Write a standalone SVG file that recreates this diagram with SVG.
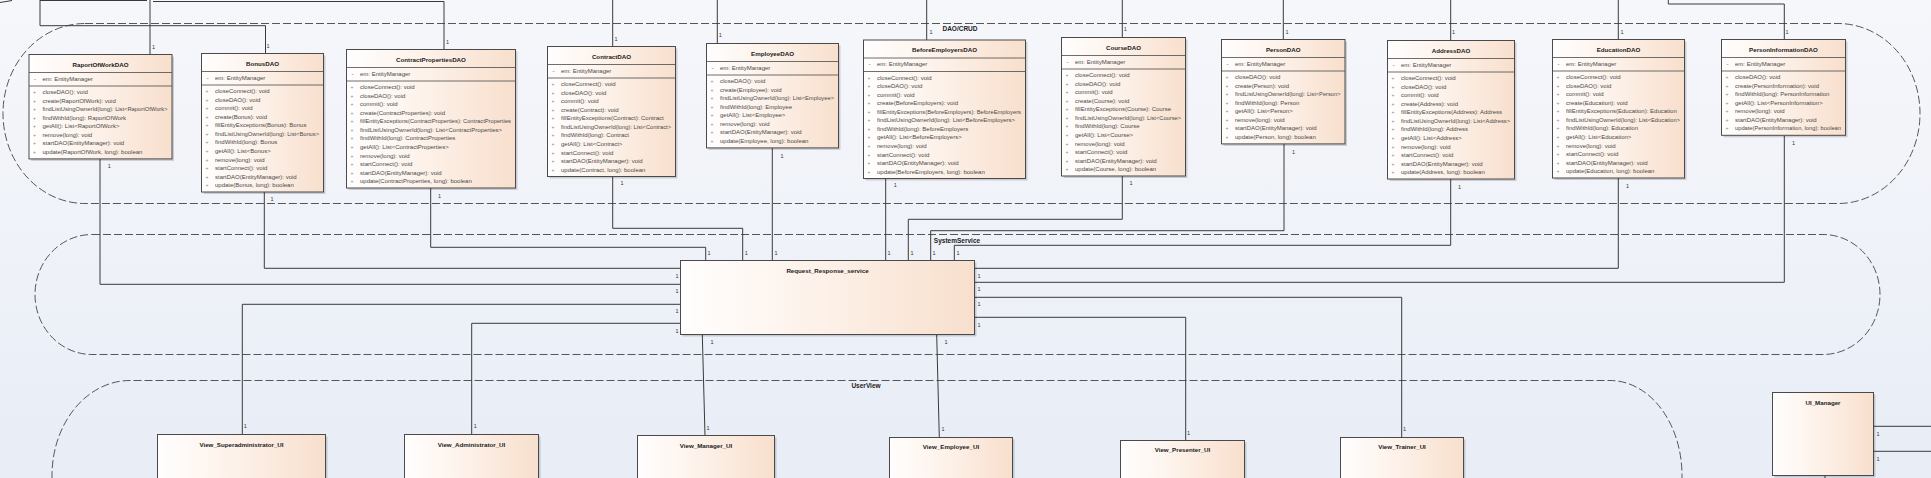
<svg xmlns="http://www.w3.org/2000/svg" width="1931" height="478" viewBox="0 0 1931 478">
<defs>
<linearGradient id="gBg" x1="0" y1="0" x2="0" y2="1"><stop offset="0" stop-color="#f6f7fb"/><stop offset="1" stop-color="#e8edf6"/></linearGradient>
<linearGradient id="gBox" x1="0" y1="0" x2="1" y2="0"><stop offset="0" stop-color="#fffefe"/><stop offset="0.45" stop-color="#fdf2ea"/><stop offset="1" stop-color="#f8dfcd"/></linearGradient>
<style>
.box{fill:url(#gBox);stroke:#4a4a4a;stroke-width:1}
.sh{fill:#000;opacity:.16}
.sep{stroke:#4a4a4a;stroke-width:.8}
.t{font-family:"Liberation Sans",Arial,sans-serif;font-size:6.2px;font-weight:bold;fill:#1a1a1a;text-anchor:middle}
.m{font-family:"Liberation Sans",Arial,sans-serif;font-size:6px;fill:#4a4a4a}
.p{font-family:"Liberation Sans",Arial,sans-serif;font-size:5px;fill:#8a8a8a}
.one{font-family:"Liberation Sans",Arial,sans-serif;font-size:5.5px;fill:#333}
.pkg{fill:none;stroke:#444;stroke-width:.9;stroke-dasharray:8 3}
.pl{font-family:"Liberation Sans",Arial,sans-serif;font-size:6.5px;font-weight:bold;fill:#222;text-anchor:middle}
.c{fill:none;stroke:#3a3a3a;stroke-width:1}
</style>
</defs>
<rect x="0" y="0" width="1931" height="478" fill="url(#gBg)"/>

<g id="packages">
<path class="pkg" d="M85,23.5 H1838 A82,90 0 0 1 1838,203.5 H85 A82,90 0 0 1 85,23.5 Z"/>
<text class="pl" x="960" y="31">DAO/CRUD</text>
<path class="pkg" d="M92,234.5 H1823 A57,60 0 0 1 1823,354.5 H92 A57,60 0 0 1 92,234.5 Z"/>
<text class="pl" x="957" y="242.5">SystemService</text>
<path class="pkg" d="M52,490 V475.5 A78,95 0 0 1 130,380.5 H1610 A72,95 0 0 1 1682,475.5 V490"/>
<text class="pl" x="866" y="388">UserView</text>
</g>

<g id="connectors">
<polyline class="c" points="0,2.5 12,0.5"/>
<polyline class="c" points="40,0.5 147,0.5"/>
<polyline class="c" points="40,0 40,25.7 150,25.7"/>
<polyline class="c" points="150,0 150,54.5"/>
<polyline class="c" points="150,25.7 265.5,25.7 265.5,53.5"/>
<polyline class="c" points="153,1.5 444,1.5 444,49.5"/>
<polyline class="c" points="612.7,0 612.7,46.5"/>
<polyline class="c" points="717.3,0 717.3,43.5"/>
<polyline class="c" points="926.7,0 926.7,40"/>
<polyline class="c" points="1122.3,0 1122.3,37.5"/>
<polyline class="c" points="1283.3,0 1283.3,39.5"/>
<polyline class="c" points="1450.7,0 1450.7,40.5"/>
<polyline class="c" points="1618.3,0 1618.3,39.5"/>
<polyline class="c" points="1668.3,0 1668.3,4 1784.3,4 1784.3,39.5"/>

<polyline class="c" points="100,159 100,284.3 680.5,284.3"/>
<polyline class="c" points="264.3,192 264.3,268.3 680.5,268.3"/>
<polyline class="c" points="430.7,188 430.7,247.3 705.7,247.3 705.7,260.5"/>
<polyline class="c" points="612.7,176.5 612.7,228.3 742.7,228.3 742.7,260.5"/>
<polyline class="c" points="772.3,148 772.3,260.5"/>
<polyline class="c" points="885.7,178.5 885.7,260.5"/>
<polyline class="c" points="1122.3,176 1122.3,219.3 908.3,219.3 908.3,260.5"/>
<polyline class="c" points="1284,144 1284,230.7 930.7,230.7 930.7,260.5"/>
<polyline class="c" points="1450.7,179 1450.7,245.3 954.3,245.3 954.3,260.5"/>
<polyline class="c" points="1618.3,178 1618.3,268.3 974.5,268.3"/>
<polyline class="c" points="1784.3,135.3 1784.3,282.3 974.5,282.3"/>
<polyline class="c" points="974.5,297.3 1401.7,297.3 1401.7,437.5"/>
<polyline class="c" points="974.5,317.3 1185.7,317.3 1185.7,440.5"/>
<polyline class="c" points="242.3,434.5 242.3,304.3 680.5,304.3"/>
<polyline class="c" points="471.7,434.5 471.7,323.3 680.5,323.3"/>
<polyline class="c" points="702.3,334.5 705,435.5"/>
<polyline class="c" points="936.7,334.5 939.3,437.5"/>
<polyline class="c" points="1873.5,426.3 1931,426.3"/>
<polyline class="c" points="1873.5,451.3 1931,451.3"/>
<polyline class="c" points="1825,475.5 1825,478"/>

<g id="multiplicities">
<text class="one" x="152" y="48.7">1</text>
<text class="one" x="266.4" y="47.7">1</text>
<text class="one" x="446" y="43.7">1</text>
<text class="one" x="614.4" y="41">1</text>
<text class="one" x="718.7" y="37">1</text>
<text class="one" x="929.4" y="34">1</text>
<text class="one" x="1123.7" y="31.3">1</text>
<text class="one" x="1285.4" y="33.7">1</text>
<text class="one" x="1452" y="34.3">1</text>
<text class="one" x="1620.4" y="33.7">1</text>
<text class="one" x="1785.4" y="33.7">1</text>

<text class="one" x="107.7" y="167.7">1</text>
<text class="one" x="270.4" y="201">1</text>
<text class="one" x="438" y="197.7">1</text>
<text class="one" x="620.4" y="185">1</text>
<text class="one" x="780.4" y="157.7">1</text>
<text class="one" x="893.7" y="187.3">1</text>
<text class="one" x="1129.4" y="185.3">1</text>
<text class="one" x="1292" y="153.7">1</text>
<text class="one" x="1458" y="188.7">1</text>
<text class="one" x="1626" y="187.7">1</text>
<text class="one" x="1792" y="145.3">1</text>

<text class="one" x="707.4" y="254.7">1</text>
<text class="one" x="744.7" y="254.7">1</text>
<text class="one" x="774.4" y="254.7">1</text>
<text class="one" x="887.4" y="254.7">1</text>
<text class="one" x="910.4" y="254.7">1</text>
<text class="one" x="932.4" y="254.7">1</text>
<text class="one" x="956.4" y="254.7">1</text>

<text class="one" x="675.4" y="277.7">1</text>
<text class="one" x="675.4" y="292.7">1</text>
<text class="one" x="675.4" y="312.7">1</text>
<text class="one" x="675.4" y="332.7">1</text>
<text class="one" x="977.4" y="277.7">1</text>
<text class="one" x="977.4" y="290.7">1</text>
<text class="one" x="977.4" y="305.7">1</text>
<text class="one" x="977.4" y="326.7">1</text>
<text class="one" x="710.4" y="343.7">1</text>
<text class="one" x="944.4" y="343.7">1</text>

<text class="one" x="243.7" y="427.7">1</text>
<text class="one" x="473.7" y="427.7">1</text>
<text class="one" x="706.4" y="429.7">1</text>
<text class="one" x="941.4" y="431.3">1</text>
<text class="one" x="1187" y="434.7">1</text>
<text class="one" x="1403" y="431.3">1</text>
<text class="one" x="1876.4" y="436">1</text>
<text class="one" x="1876.4" y="460.7">1</text>
</g>
</g>

<g id="RaportOfWorkDAO">
<rect class="sh" x="31" y="56.5" width="143" height="104.4"/>
<rect class="box" x="29" y="54.5" width="143" height="104.4"/>
<g transform="translate(29,54.5)">
<line class="sep" x1="0" y1="18" x2="143" y2="18"/><line class="sep" x1="0" y1="31.5" x2="143" y2="31.5"/>
<text class="t" x="71.5" y="12">RaportOfWorkDAO</text>
<text class="m" x="5" y="26">-</text><text class="m" x="13.5" y="26">em: EntityManager</text>
<text class="p" x="4" y="39.6">+</text><text class="m" x="13.5" y="39.6">closeDAO(): void</text>
<text class="p" x="4" y="48.15">+</text><text class="m" x="13.5" y="48.15">create(RaportOfWork): void</text>
<text class="p" x="4" y="56.7">+</text><text class="m" x="13.5" y="56.7" textLength="125" lengthAdjust="spacingAndGlyphs">findListUsingOwnerId(long): List&lt;RaportOfWork&gt;</text>
<text class="p" x="4" y="65.25">+</text><text class="m" x="13.5" y="65.25">findWithId(long): RaportOfWork</text>
<text class="p" x="4" y="73.8">+</text><text class="m" x="13.5" y="73.8">getAll(): List&lt;RaportOfWork&gt;</text>
<text class="p" x="4" y="82.35">+</text><text class="m" x="13.5" y="82.35">remove(long): void</text>
<text class="p" x="4" y="90.9">+</text><text class="m" x="13.5" y="90.9">startDAO(EntityManager): void</text>
<text class="p" x="4" y="99.45">+</text><text class="m" x="13.5" y="99.45">update(RaportOfWork, long): boolean</text>
</g>
</g>

<g id="BonusDAO">
<rect class="sh" x="203.5" y="55.5" width="122" height="138.5"/>
<rect class="box" x="201.5" y="53.5" width="122" height="138.5"/>
<g transform="translate(201.5,53.5)">
<line class="sep" x1="0" y1="18" x2="122" y2="18"/><line class="sep" x1="0" y1="31.5" x2="122" y2="31.5"/>
<text class="t" x="61" y="12">BonusDAO</text>
<text class="m" x="5" y="26">-</text><text class="m" x="13.5" y="26">em: EntityManager</text>
<text class="p" x="4" y="39.6">+</text><text class="m" x="13.5" y="39.6">closeConnect(): void</text>
<text class="p" x="4" y="48.15">+</text><text class="m" x="13.5" y="48.15">closeDAO(): void</text>
<text class="p" x="4" y="56.7">+</text><text class="m" x="13.5" y="56.7">commit(): void</text>
<text class="p" x="4" y="65.25">+</text><text class="m" x="13.5" y="65.25">create(Bonus): void</text>
<text class="p" x="4" y="73.8">+</text><text class="m" x="13.5" y="73.8">fillEntityExceptions(Bonus): Bonus</text>
<text class="p" x="4" y="82.35">+</text><text class="m" x="13.5" y="82.35" textLength="104" lengthAdjust="spacingAndGlyphs">findListUsingOwnerId(long): List&lt;Bonus&gt;</text>
<text class="p" x="4" y="90.9">+</text><text class="m" x="13.5" y="90.9">findWithId(long): Bonus</text>
<text class="p" x="4" y="99.45">+</text><text class="m" x="13.5" y="99.45">getAll(): List&lt;Bonus&gt;</text>
<text class="p" x="4" y="108">+</text><text class="m" x="13.5" y="108">remove(long): void</text>
<text class="p" x="4" y="116.55">+</text><text class="m" x="13.5" y="116.55">startConnect(): void</text>
<text class="p" x="4" y="125.1">+</text><text class="m" x="13.5" y="125.1">startDAO(EntityManager): void</text>
<text class="p" x="4" y="133.65">+</text><text class="m" x="13.5" y="133.65">update(Bonus, long): boolean</text>
</g>
</g>

<g id="ContractPropertiesDAO">
<rect class="sh" x="348.5" y="51.5" width="169" height="138.5"/>
<rect class="box" x="346.5" y="49.5" width="169" height="138.5"/>
<g transform="translate(346.5,49.5)">
<line class="sep" x1="0" y1="18" x2="169" y2="18"/><line class="sep" x1="0" y1="31.5" x2="169" y2="31.5"/>
<text class="t" x="84.5" y="12">ContractPropertiesDAO</text>
<text class="m" x="5" y="26">-</text><text class="m" x="13.5" y="26">em: EntityManager</text>
<text class="p" x="4" y="39.6">+</text><text class="m" x="13.5" y="39.6">closeConnect(): void</text>
<text class="p" x="4" y="48.15">+</text><text class="m" x="13.5" y="48.15">closeDAO(): void</text>
<text class="p" x="4" y="56.7">+</text><text class="m" x="13.5" y="56.7">commit(): void</text>
<text class="p" x="4" y="65.25">+</text><text class="m" x="13.5" y="65.25">create(ContractProperties): void</text>
<text class="p" x="4" y="73.8">+</text><text class="m" x="13.5" y="73.8" textLength="151" lengthAdjust="spacingAndGlyphs">fillEntityExceptions(ContractProperties): ContractProperties</text>
<text class="p" x="4" y="82.35">+</text><text class="m" x="13.5" y="82.35">findListUsingOwnerId(long): List&lt;ContractProperties&gt;</text>
<text class="p" x="4" y="90.9">+</text><text class="m" x="13.5" y="90.9">findWithId(long): ContractProperties</text>
<text class="p" x="4" y="99.45">+</text><text class="m" x="13.5" y="99.45">getAll(): List&lt;ContractProperties&gt;</text>
<text class="p" x="4" y="108">+</text><text class="m" x="13.5" y="108">remove(long): void</text>
<text class="p" x="4" y="116.55">+</text><text class="m" x="13.5" y="116.55">startConnect(): void</text>
<text class="p" x="4" y="125.1">+</text><text class="m" x="13.5" y="125.1">startDAO(EntityManager): void</text>
<text class="p" x="4" y="133.65">+</text><text class="m" x="13.5" y="133.65">update(ContractProperties, long): boolean</text>
</g>
</g>

<g id="ContractDAO">
<rect class="sh" x="549.5" y="48.5" width="128" height="130"/>
<rect class="box" x="547.5" y="46.5" width="128" height="130"/>
<g transform="translate(547.5,46.5)">
<line class="sep" x1="0" y1="18" x2="128" y2="18"/><line class="sep" x1="0" y1="31.5" x2="128" y2="31.5"/>
<text class="t" x="64" y="12">ContractDAO</text>
<text class="m" x="5" y="26">-</text><text class="m" x="13.5" y="26">em: EntityManager</text>
<text class="p" x="4" y="39.6">+</text><text class="m" x="13.5" y="39.6">closeConnect(): void</text>
<text class="p" x="4" y="48.15">+</text><text class="m" x="13.5" y="48.15">closeDAO(): void</text>
<text class="p" x="4" y="56.7">+</text><text class="m" x="13.5" y="56.7">commit(): void</text>
<text class="p" x="4" y="65.25">+</text><text class="m" x="13.5" y="65.25">create(Contract): void</text>
<text class="p" x="4" y="73.8">+</text><text class="m" x="13.5" y="73.8">fillEntityExceptions(Contract): Contract</text>
<text class="p" x="4" y="82.35">+</text><text class="m" x="13.5" y="82.35" textLength="110" lengthAdjust="spacingAndGlyphs">findListUsingOwnerId(long): List&lt;Contract&gt;</text>
<text class="p" x="4" y="90.9">+</text><text class="m" x="13.5" y="90.9">findWithId(long): Contract</text>
<text class="p" x="4" y="99.45">+</text><text class="m" x="13.5" y="99.45">getAll(): List&lt;Contract&gt;</text>
<text class="p" x="4" y="108">+</text><text class="m" x="13.5" y="108">startConnect(): void</text>
<text class="p" x="4" y="116.55">+</text><text class="m" x="13.5" y="116.55">startDAO(EntityManager): void</text>
<text class="p" x="4" y="125.1">+</text><text class="m" x="13.5" y="125.1">update(Contract, long): boolean</text>
</g>
</g>

<g id="EmployeeDAO">
<rect class="sh" x="708.5" y="45.5" width="132" height="104.4"/>
<rect class="box" x="706.5" y="43.5" width="132" height="104.4"/>
<g transform="translate(706.5,43.5)">
<line class="sep" x1="0" y1="18" x2="132" y2="18"/><line class="sep" x1="0" y1="31.5" x2="132" y2="31.5"/>
<text class="t" x="66" y="12">EmployeeDAO</text>
<text class="m" x="5" y="26">-</text><text class="m" x="13.5" y="26">em: EntityManager</text>
<text class="p" x="4" y="39.6">+</text><text class="m" x="13.5" y="39.6">closeDAO(): void</text>
<text class="p" x="4" y="48.15">+</text><text class="m" x="13.5" y="48.15">create(Employee): void</text>
<text class="p" x="4" y="56.7">+</text><text class="m" x="13.5" y="56.7" textLength="114" lengthAdjust="spacingAndGlyphs">findListUsingOwnerId(long): List&lt;Employee&gt;</text>
<text class="p" x="4" y="65.25">+</text><text class="m" x="13.5" y="65.25">findWithId(long): Employee</text>
<text class="p" x="4" y="73.8">+</text><text class="m" x="13.5" y="73.8">getAll(): List&lt;Employee&gt;</text>
<text class="p" x="4" y="82.35">+</text><text class="m" x="13.5" y="82.35">remove(long): void</text>
<text class="p" x="4" y="90.9">+</text><text class="m" x="13.5" y="90.9">startDAO(EntityManager): void</text>
<text class="p" x="4" y="99.45">+</text><text class="m" x="13.5" y="99.45">update(Employee, long): boolean</text>
</g>
</g>

<g id="BeforeEmployersDAO">
<rect class="sh" x="865.5" y="42" width="162" height="138.5"/>
<rect class="box" x="863.5" y="40" width="162" height="138.5"/>
<g transform="translate(863.5,40)">
<line class="sep" x1="0" y1="18" x2="162" y2="18"/><line class="sep" x1="0" y1="31.5" x2="162" y2="31.5"/>
<text class="t" x="81" y="12">BeforeEmployersDAO</text>
<text class="m" x="5" y="26">-</text><text class="m" x="13.5" y="26">em: EntityManager</text>
<text class="p" x="4" y="39.6">+</text><text class="m" x="13.5" y="39.6">closeConnect(): void</text>
<text class="p" x="4" y="48.15">+</text><text class="m" x="13.5" y="48.15">closeDAO(): void</text>
<text class="p" x="4" y="56.7">+</text><text class="m" x="13.5" y="56.7">commit(): void</text>
<text class="p" x="4" y="65.25">+</text><text class="m" x="13.5" y="65.25">create(BeforeEmployers): void</text>
<text class="p" x="4" y="73.8">+</text><text class="m" x="13.5" y="73.8" textLength="144" lengthAdjust="spacingAndGlyphs">fillEntityExceptions(BeforeEmployers): BeforeEmployers</text>
<text class="p" x="4" y="82.35">+</text><text class="m" x="13.5" y="82.35">findListUsingOwnerId(long): List&lt;BeforeEmployers&gt;</text>
<text class="p" x="4" y="90.9">+</text><text class="m" x="13.5" y="90.9">findWithId(long): BeforeEmployers</text>
<text class="p" x="4" y="99.45">+</text><text class="m" x="13.5" y="99.45">getAll(): List&lt;BeforeEmployers&gt;</text>
<text class="p" x="4" y="108">+</text><text class="m" x="13.5" y="108">remove(long): void</text>
<text class="p" x="4" y="116.55">+</text><text class="m" x="13.5" y="116.55">startConnect(): void</text>
<text class="p" x="4" y="125.1">+</text><text class="m" x="13.5" y="125.1">startDAO(EntityManager): void</text>
<text class="p" x="4" y="133.65">+</text><text class="m" x="13.5" y="133.65">update(BeforeEmployers, long): boolean</text>
</g>
</g>

<g id="CourseDAO">
<rect class="sh" x="1063.5" y="39.5" width="124" height="138.5"/>
<rect class="box" x="1061.5" y="37.5" width="124" height="138.5"/>
<g transform="translate(1061.5,37.5)">
<line class="sep" x1="0" y1="18" x2="124" y2="18"/><line class="sep" x1="0" y1="31.5" x2="124" y2="31.5"/>
<text class="t" x="62" y="12">CourseDAO</text>
<text class="m" x="5" y="26">-</text><text class="m" x="13.5" y="26">em: EntityManager</text>
<text class="p" x="4" y="39.6">+</text><text class="m" x="13.5" y="39.6">closeConnect(): void</text>
<text class="p" x="4" y="48.15">+</text><text class="m" x="13.5" y="48.15">closeDAO(): void</text>
<text class="p" x="4" y="56.7">+</text><text class="m" x="13.5" y="56.7">commit(): void</text>
<text class="p" x="4" y="65.25">+</text><text class="m" x="13.5" y="65.25">create(Course): void</text>
<text class="p" x="4" y="73.8">+</text><text class="m" x="13.5" y="73.8">fillEntityExceptions(Course): Course</text>
<text class="p" x="4" y="82.35">+</text><text class="m" x="13.5" y="82.35" textLength="106" lengthAdjust="spacingAndGlyphs">findListUsingOwnerId(long): List&lt;Course&gt;</text>
<text class="p" x="4" y="90.9">+</text><text class="m" x="13.5" y="90.9">findWithId(long): Course</text>
<text class="p" x="4" y="99.45">+</text><text class="m" x="13.5" y="99.45">getAll(): List&lt;Course&gt;</text>
<text class="p" x="4" y="108">+</text><text class="m" x="13.5" y="108">remove(long): void</text>
<text class="p" x="4" y="116.55">+</text><text class="m" x="13.5" y="116.55">startConnect(): void</text>
<text class="p" x="4" y="125.1">+</text><text class="m" x="13.5" y="125.1">startDAO(EntityManager): void</text>
<text class="p" x="4" y="133.65">+</text><text class="m" x="13.5" y="133.65">update(Course, long): boolean</text>
</g>
</g>

<g id="PersonDAO">
<rect class="sh" x="1223.5" y="41.5" width="123.5" height="104.4"/>
<rect class="box" x="1221.5" y="39.5" width="123.5" height="104.4"/>
<g transform="translate(1221.5,39.5)">
<line class="sep" x1="0" y1="18" x2="123.5" y2="18"/><line class="sep" x1="0" y1="31.5" x2="123.5" y2="31.5"/>
<text class="t" x="61.75" y="12">PersonDAO</text>
<text class="m" x="5" y="26">-</text><text class="m" x="13.5" y="26">em: EntityManager</text>
<text class="p" x="4" y="39.6">+</text><text class="m" x="13.5" y="39.6">closeDAO(): void</text>
<text class="p" x="4" y="48.15">+</text><text class="m" x="13.5" y="48.15">create(Person): void</text>
<text class="p" x="4" y="56.7">+</text><text class="m" x="13.5" y="56.7" textLength="105.5" lengthAdjust="spacingAndGlyphs">findListUsingOwnerId(long): List&lt;Person&gt;</text>
<text class="p" x="4" y="65.25">+</text><text class="m" x="13.5" y="65.25">findWithId(long): Person</text>
<text class="p" x="4" y="73.8">+</text><text class="m" x="13.5" y="73.8">getAll(): List&lt;Person&gt;</text>
<text class="p" x="4" y="82.35">+</text><text class="m" x="13.5" y="82.35">remove(long): void</text>
<text class="p" x="4" y="90.9">+</text><text class="m" x="13.5" y="90.9">startDAO(EntityManager): void</text>
<text class="p" x="4" y="99.45">+</text><text class="m" x="13.5" y="99.45">update(Person, long): boolean</text>
</g>
</g>

<g id="AddressDAO">
<rect class="sh" x="1389.5" y="42.5" width="127" height="138.5"/>
<rect class="box" x="1387.5" y="40.5" width="127" height="138.5"/>
<g transform="translate(1387.5,40.5)">
<line class="sep" x1="0" y1="18" x2="127" y2="18"/><line class="sep" x1="0" y1="31.5" x2="127" y2="31.5"/>
<text class="t" x="63.5" y="12">AddressDAO</text>
<text class="m" x="5" y="26">-</text><text class="m" x="13.5" y="26">em: EntityManager</text>
<text class="p" x="4" y="39.6">+</text><text class="m" x="13.5" y="39.6">closeConnect(): void</text>
<text class="p" x="4" y="48.15">+</text><text class="m" x="13.5" y="48.15">closeDAO(): void</text>
<text class="p" x="4" y="56.7">+</text><text class="m" x="13.5" y="56.7">commit(): void</text>
<text class="p" x="4" y="65.25">+</text><text class="m" x="13.5" y="65.25">create(Address): void</text>
<text class="p" x="4" y="73.8">+</text><text class="m" x="13.5" y="73.8">fillEntityExceptions(Address): Address</text>
<text class="p" x="4" y="82.35">+</text><text class="m" x="13.5" y="82.35" textLength="109" lengthAdjust="spacingAndGlyphs">findListUsingOwnerId(long): List&lt;Address&gt;</text>
<text class="p" x="4" y="90.9">+</text><text class="m" x="13.5" y="90.9">findWithId(long): Address</text>
<text class="p" x="4" y="99.45">+</text><text class="m" x="13.5" y="99.45">getAll(): List&lt;Address&gt;</text>
<text class="p" x="4" y="108">+</text><text class="m" x="13.5" y="108">remove(long): void</text>
<text class="p" x="4" y="116.55">+</text><text class="m" x="13.5" y="116.55">startConnect(): void</text>
<text class="p" x="4" y="125.1">+</text><text class="m" x="13.5" y="125.1">startDAO(EntityManager): void</text>
<text class="p" x="4" y="133.65">+</text><text class="m" x="13.5" y="133.65">update(Address, long): boolean</text>
</g>
</g>

<g id="EducationDAO">
<rect class="sh" x="1554.5" y="41.5" width="132" height="138.5"/>
<rect class="box" x="1552.5" y="39.5" width="132" height="138.5"/>
<g transform="translate(1552.5,39.5)">
<line class="sep" x1="0" y1="18" x2="132" y2="18"/><line class="sep" x1="0" y1="31.5" x2="132" y2="31.5"/>
<text class="t" x="66" y="12">EducationDAO</text>
<text class="m" x="5" y="26">-</text><text class="m" x="13.5" y="26">em: EntityManager</text>
<text class="p" x="4" y="39.6">+</text><text class="m" x="13.5" y="39.6">closeConnect(): void</text>
<text class="p" x="4" y="48.15">+</text><text class="m" x="13.5" y="48.15">closeDAO(): void</text>
<text class="p" x="4" y="56.7">+</text><text class="m" x="13.5" y="56.7">commit(): void</text>
<text class="p" x="4" y="65.25">+</text><text class="m" x="13.5" y="65.25">create(Education): void</text>
<text class="p" x="4" y="73.8">+</text><text class="m" x="13.5" y="73.8">fillEntityExceptions(Education): Education</text>
<text class="p" x="4" y="82.35">+</text><text class="m" x="13.5" y="82.35" textLength="114" lengthAdjust="spacingAndGlyphs">findListUsingOwnerId(long): List&lt;Education&gt;</text>
<text class="p" x="4" y="90.9">+</text><text class="m" x="13.5" y="90.9">findWithId(long): Education</text>
<text class="p" x="4" y="99.45">+</text><text class="m" x="13.5" y="99.45">getAll(): List&lt;Education&gt;</text>
<text class="p" x="4" y="108">+</text><text class="m" x="13.5" y="108">remove(long): void</text>
<text class="p" x="4" y="116.55">+</text><text class="m" x="13.5" y="116.55">startConnect(): void</text>
<text class="p" x="4" y="125.1">+</text><text class="m" x="13.5" y="125.1">startDAO(EntityManager): void</text>
<text class="p" x="4" y="133.65">+</text><text class="m" x="13.5" y="133.65">update(Education, long): boolean</text>
</g>
</g>

<g id="PersonInformationDAO">
<rect class="sh" x="1723.5" y="41.5" width="124" height="95.8"/>
<rect class="box" x="1721.5" y="39.5" width="124" height="95.8"/>
<g transform="translate(1721.5,39.5)">
<line class="sep" x1="0" y1="18" x2="124" y2="18"/><line class="sep" x1="0" y1="31.5" x2="124" y2="31.5"/>
<text class="t" x="62" y="12">PersonInformationDAO</text>
<text class="m" x="5" y="26">-</text><text class="m" x="13.5" y="26">em: EntityManager</text>
<text class="p" x="4" y="39.6">+</text><text class="m" x="13.5" y="39.6">closeDAO(): void</text>
<text class="p" x="4" y="48.15">+</text><text class="m" x="13.5" y="48.15">create(PersonInformation): void</text>
<text class="p" x="4" y="56.7">+</text><text class="m" x="13.5" y="56.7">findWithId(long): PersonInformation</text>
<text class="p" x="4" y="65.25">+</text><text class="m" x="13.5" y="65.25">getAll(): List&lt;PersonInformation&gt;</text>
<text class="p" x="4" y="73.8">+</text><text class="m" x="13.5" y="73.8">remove(long): void</text>
<text class="p" x="4" y="82.35">+</text><text class="m" x="13.5" y="82.35">startDAO(EntityManager): void</text>
<text class="p" x="4" y="90.9">+</text><text class="m" x="13.5" y="90.9" textLength="106" lengthAdjust="spacingAndGlyphs">update(PersonInformation, long): boolean</text>
</g>
</g>

<g id="Request_Response_service">
<rect class="sh" x="682.5" y="262.5" width="294" height="74"/>
<rect class="box" x="680.5" y="260.5" width="294" height="74"/>
<text class="t" x="827.5" y="272.5">Request_Response_service</text>
</g>

<g id="View_Superadministrator_UI">
<rect class="sh" x="159.5" y="436.5" width="168" height="60"/>
<rect class="box" x="157.5" y="434.5" width="168" height="60"/>
<text class="t" x="241.5" y="446.5">View_Superadministrator_UI</text>
</g>
<g id="View_Administrator_UI">
<rect class="sh" x="406.5" y="436.5" width="134" height="60"/>
<rect class="box" x="404.5" y="434.5" width="134" height="60"/>
<text class="t" x="471.5" y="446.5">View_Administrator_UI</text>
</g>
<g id="View_Manager_UI">
<rect class="sh" x="639.5" y="437.5" width="137" height="60"/>
<rect class="box" x="637.5" y="435.5" width="137" height="60"/>
<text class="t" x="706" y="447.5">View_Manager_UI</text>
</g>
<g id="View_Employee_UI">
<rect class="sh" x="891.5" y="439.5" width="123" height="60"/>
<rect class="box" x="889.5" y="437.5" width="123" height="60"/>
<text class="t" x="951" y="449">View_Employee_UI</text>
</g>
<g id="View_Presenter_UI">
<rect class="sh" x="1122.5" y="442.5" width="124" height="60"/>
<rect class="box" x="1120.5" y="440.5" width="124" height="60"/>
<text class="t" x="1182.5" y="452">View_Presenter_UI</text>
</g>
<g id="View_Trainer_UI">
<rect class="sh" x="1342.5" y="439.5" width="123" height="60"/>
<rect class="box" x="1340.5" y="437.5" width="123" height="60"/>
<text class="t" x="1402" y="449">View_Trainer_UI</text>
</g>
<g id="UI_Manager">
<rect class="sh" x="1774.5" y="394.5" width="101" height="83"/>
<rect class="box" x="1772.5" y="392.5" width="101" height="83"/>
<text class="t" x="1823" y="404.5">UI_Manager</text>
</g>
</svg>
